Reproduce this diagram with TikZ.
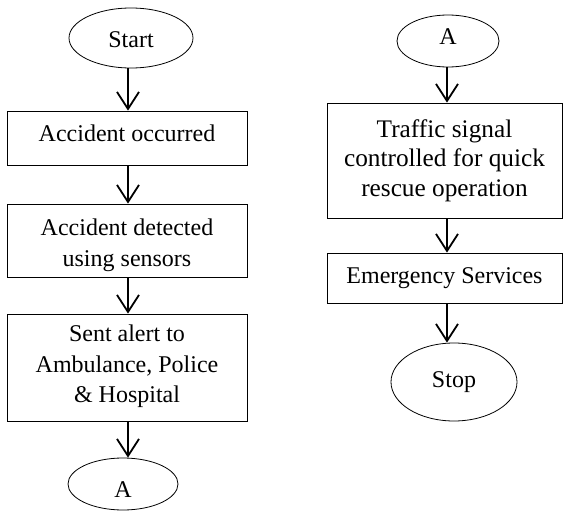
\documentclass[tikz,border=0pt]{standalone}
\usepackage{fontspec}
\setmainfont{Liberation Serif}
\usetikzlibrary{shapes.geometric,arrows.meta}
\begin{document}
\begin{tikzpicture}[x=1pt,y=-1pt,
  txt/.style={font=\fontsize{24}{30.5}\selectfont},
  box/.style={txt,draw,line width=0.8pt,minimum width=240pt,inner sep=0pt,align=center},
  term/.style={txt,draw,ellipse,line width=0.8pt,inner sep=0pt},
  inlabel/.style={txt,align=center,inner sep=0pt},
  flow/.style={line width=1.8pt,-{Straight Barb[length=17pt,width=22pt,line width=1.8pt]}}]
\useasboundingbox (0,0) rectangle (563,511);
% left column
\node[term,minimum width=124pt,minimum height=60pt,text height=19pt,text depth=0pt] (start) at (131,38) {Start};
\node[box,minimum height=54pt,text height=16pt,text depth=8pt] (b1) at (127,138) {Accident occurred};
\node[box,minimum height=73pt,label={[inlabel,yshift=-5pt]center:{Accident detected\\using sensors}}] (b2) at (127,240.5) {};
\node[box,minimum height=107pt,label={[inlabel,yshift=1pt]center:{Sent alert to\\Ambulance, Police\\\& Hospital}}] (b3) at (127,367.5) {};
\node[term,minimum width=110pt,minimum height=52pt,text height=26pt,text depth=0pt] (a1) at (123,484) {A};
% right column
\node[term,minimum width=102pt,minimum height=52pt,text height=16pt,text depth=8pt] (a2) at (448,41) {A};
\node[box,minimum width=235pt,minimum height=115pt,label={[inlabel,font=\fontsize{25.3}{29.5}\selectfont]center:{Traffic signal\\controlled for quick\\rescue operation}}] (b4) at (444.5,160.5) {};
\node[box,minimum width=235pt,minimum height=50pt,text height=16pt,text depth=6pt] (b5) at (444.5,278) {Emergency Services};
\node[term,minimum width=126pt,minimum height=78pt,text height=16pt,text depth=6pt] (stop) at (454,382) {Stop};
% connectors
\coordinate (lx) at (128,0);
\coordinate (rx) at (447,0);
\draw[flow] (start.south -| lx) -- (b1.north -| lx);
\draw[flow] (b1.south -| lx) -- (b2.north -| lx);
\draw[flow] (b2.south -| lx) -- (b3.north -| lx);
\draw[flow] (b3.south -| lx) -- (a1.north -| lx);
\draw[flow] (a2.south -| rx) -- (b4.north -| rx);
\draw[flow] (b4.south -| rx) -- (b5.north -| rx);
\draw[flow] (b5.south -| rx) -- (stop.north -| rx);
\end{tikzpicture}
\end{document}
